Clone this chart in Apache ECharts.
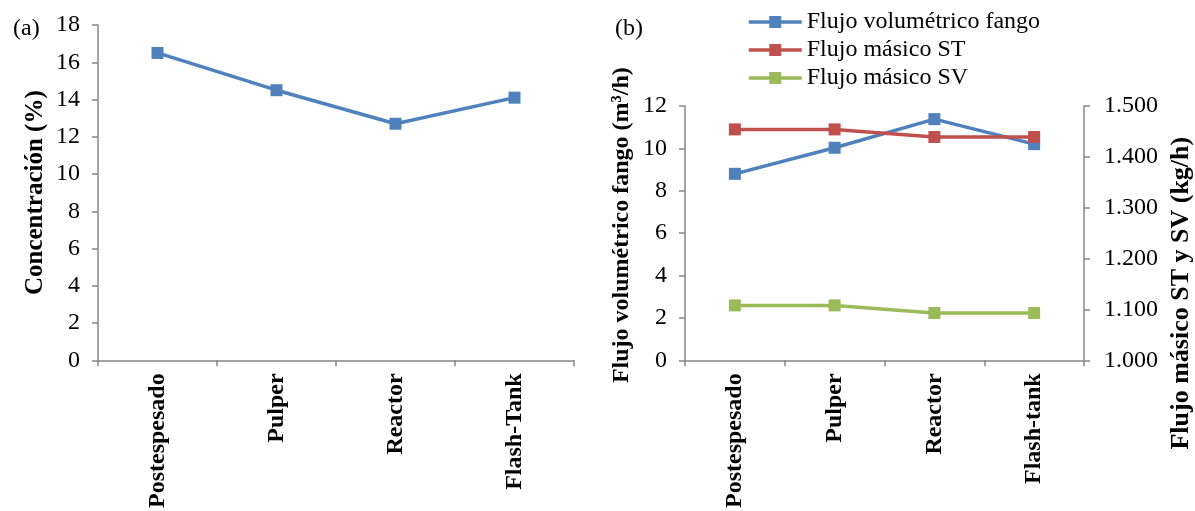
<!DOCTYPE html>
<html>
<head>
<meta charset="utf-8">
<script src="https://cdn.jsdelivr.net/npm/echarts@6/dist/echarts.min.js"></script>
<style>
  html, body { margin: 0; padding: 0; background: #fff; }
  #chart { width: 1195px; height: 511px; }
</style>
</head>
<body>
<div id="chart"></div>
<script>
// Panel (a): sludge concentration along the process line
const categoriesA = ['Postespesado', 'Pulper', 'Reactor', 'Flash-Tank'];
const concentracion = [16.5, 14.5, 12.7, 14.1];
const ticksA = { min: 0, max: 18, interval: 2 };

// Panel (b): volumetric and mass flows
const categoriesB = ['Postespesado', 'Pulper', 'Reactor', 'Flash-tank'];
const flujoVolumetrico = [8.8, 10.03, 11.38, 10.2];   // m3/h, left axis
const flujoMasicoST = [1454, 1454, 1439, 1439];       // kg/h, right axis
const flujoMasicoSV = [1108, 1108, 1093, 1093];       // kg/h, right axis
const ticksBLeft = { min: 0, max: 12, interval: 2 };
const ticksBRight = { min: 1000, max: 1500, interval: 100 };

const FONT = '"Liberation Serif", "Times New Roman", serif';
const AXIS_GREY = '#868686';
const BLUE = '#4F81BD', RED = '#C0504D', GREEN = '#9BBB59';

// Spanish thousands separator: 1500 -> "1.500"
const fmtMiles = v => {
  const s = String(Math.round(v));
  return s.replace(/\B(?=(\d{3})+(?!\d))/g, '.');
};

const axisLine = { show: true, lineStyle: { color: AXIS_GREY, width: 1.5 } };
const axisTick = { show: true, length: 6, lineStyle: { color: AXIS_GREY, width: 1.5 } };
const tickLabel = { color: '#000', fontFamily: FONT, fontSize: 24 };
const catLabel = { color: '#000', fontFamily: FONT, fontSize: 24, fontWeight: 'bold', rotate: 90, margin: 13 };
const bold = size => ({ color: '#000', fontFamily: FONT, fontSize: size, fontWeight: 'bold' });

function lineSeries(name, data, color, xIdx, yIdx) {
  return {
    name, type: 'line', data,
    xAxisIndex: xIdx, yAxisIndex: yIdx,
    symbol: 'rect', symbolSize: 12,
    lineStyle: { color, width: 3.5 },
    itemStyle: { color },
    animation: false
  };
}

const chart = echarts.init(document.getElementById('chart'), null, { renderer: 'canvas' });
chart.setOption({
  backgroundColor: '#fff',
  animation: false,
  title: [
    { text: '(a)', left: 8, top: 12, textStyle: { fontFamily: FONT, fontSize: 24, fontWeight: 'normal', color: '#000' } },
    { text: '(b)', left: 610, top: 12, textStyle: { fontFamily: FONT, fontSize: 24, fontWeight: 'normal', color: '#000' } }
  ],
  legend: {
    orient: 'vertical',
    left: 742, top: 5,
    itemWidth: 53, itemHeight: 15,
    itemGap: 4,
    lineStyle: { width: 3.5 },
    textStyle: { fontFamily: FONT, fontSize: 24, color: '#000' },
    data: ['Flujo volumétrico fango', 'Flujo másico ST', 'Flujo másico SV']
  },
  grid: [
    { left: 98, width: 476, top: 25, height: 337.5, containLabel: false },
    { left: 685, width: 400, top: 106, height: 259, containLabel: false }
  ],
  xAxis: [
    {
      type: 'category', gridIndex: 0, data: categoriesA, boundaryGap: true,
      axisLine, axisTick, axisLabel: catLabel, splitLine: { show: false }
    },
    {
      type: 'category', gridIndex: 1, data: categoriesB, boundaryGap: true,
      axisLine, axisTick, axisLabel: catLabel, splitLine: { show: false }
    }
  ],
  yAxis: [
    {
      type: 'value', gridIndex: 0, min: ticksA.min, max: ticksA.max, interval: ticksA.interval,
      axisLine, axisTick, splitLine: { show: false },
      axisLabel: Object.assign({ margin: 18 }, tickLabel),
      name: 'Concentración (%)', nameLocation: 'middle', nameGap: 50,
      nameTextStyle: bold(25)
    },
    {
      type: 'value', gridIndex: 1, min: ticksBLeft.min, max: ticksBLeft.max, interval: ticksBLeft.interval,
      axisLine, axisTick, splitLine: { show: false },
      axisLabel: Object.assign({ margin: 18 }, tickLabel),
      name: 'Flujo volumétrico fango (m³/h)', nameLocation: 'middle', nameGap: 51,
      nameTextStyle: Object.assign(bold(24), { padding: [0, 0, 0, 16] })
    },
    {
      type: 'value', gridIndex: 1, position: 'right',
      min: ticksBRight.min, max: ticksBRight.max, interval: ticksBRight.interval,
      axisLine, axisTick, splitLine: { show: false },
      axisLabel: Object.assign({ margin: 20, formatter: fmtMiles }, tickLabel),
      name: 'Flujo másico ST y SV (kg/h)', nameLocation: 'middle', nameGap: 84,
      nameTextStyle: Object.assign(bold(26), { padding: [0, 120, 0, 0] })
    }
  ],
  series: [
    lineSeries('Concentración', concentracion, BLUE, 0, 0),
    lineSeries('Flujo volumétrico fango', flujoVolumetrico, BLUE, 1, 1),
    lineSeries('Flujo másico ST', flujoMasicoST, RED, 1, 2),
    lineSeries('Flujo másico SV', flujoMasicoSV, GREEN, 1, 2)
  ]
});
</script>
</body>
</html>
